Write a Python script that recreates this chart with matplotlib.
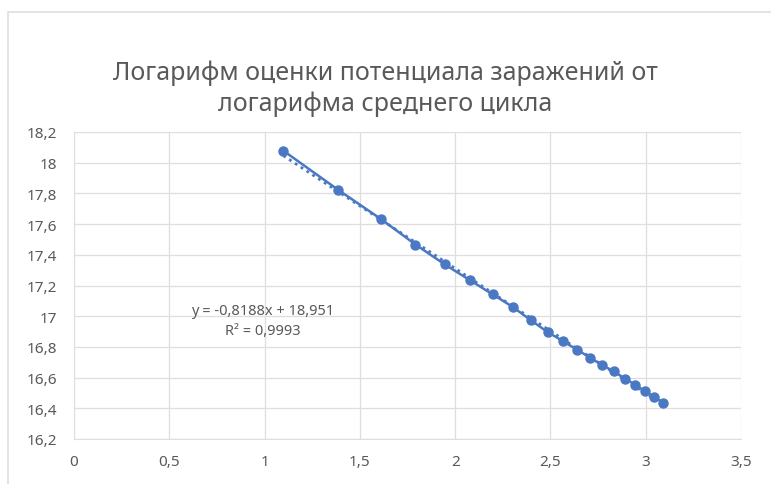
import numpy as np
import matplotlib
matplotlib.use("Agg")
import matplotlib.pyplot as plt
from matplotlib.patches import Rectangle

# Données
ln_cycle = [1.0986, 1.3863, 1.6094, 1.7918, 1.9459, 2.0794, 2.1972, 2.3026,
            2.3979, 2.4849, 2.5649, 2.6391, 2.7081, 2.7726, 2.8332, 2.8904,
            2.9444, 2.9957, 3.0445, 3.0910]
ln_potential = [18.078, 17.823, 17.634, 17.467, 17.337, 17.233, 17.142, 17.060,
                16.973, 16.897, 16.838, 16.782, 16.730, 16.680, 16.641, 16.593,
                16.554, 16.511, 16.474, 16.437]
x_ticks = [0, 0.5, 1, 1.5, 2, 2.5, 3, 3.5]
y_ticks = [16.2, 16.4, 16.6, 16.8, 17, 17.2, 17.4, 17.6, 17.8, 18, 18.2]
title = "Логарифм оценки потенциала заражений от\nлогарифма среднего цикла"
equation = "y = -0,8188x + 18,951\nR² = 0,9993"

blue = "#4a78c2"
grey_txt = "#595959"
grey_grid = "#dedede"

plt.rcParams['font.family'] = ['Noto Sans', 'DejaVu Sans']

fig = plt.figure(figsize=(7.71, 4.85), dpi=100)
ax = fig.add_axes([74 / 771, 1 - 440 / 485, (741 - 74) / 771, (440 - 133) / 485])

# Cadre du graphique
fig.patches.append(Rectangle((8 / 771, -0.05), 1.1, 1 - 13 / 485 + 0.05,
                             transform=fig.transFigure, fill=False,
                             edgecolor=grey_grid, linewidth=1.2))

# Série
ax.plot(ln_cycle, ln_potential, color=blue, linewidth=1.8, marker='o',
        markersize=6.5, zorder=3)

# Ligne de tendance
k, b = np.polyfit(ln_cycle, ln_potential, 1)
xt = np.array([ln_cycle[0], ln_cycle[-1]])
ax.plot(xt, k * xt + b, color=blue, linewidth=2, linestyle=(0, (1, 1.5)),
        zorder=2)

ax.text(0.99, 16.975, equation, ha='center', va='center', fontsize=10.5,
        color=grey_txt, linespacing=1.45)

ax.set_xlim(0, 3.5)
ax.set_ylim(16.2, 18.2)
ax.set_xticks(x_ticks)
ax.set_yticks(y_ticks)
ax.set_xticklabels([f"{v:g}".replace('.', ',') for v in x_ticks])
ax.set_yticklabels([f"{v:g}".replace('.', ',') for v in y_ticks])
ax.tick_params(length=0, labelsize=11, colors=grey_txt)
ax.tick_params(axis='y', pad=12)
ax.tick_params(axis='x', pad=11)
ax.grid(True, color=grey_grid, linewidth=0.9)
ax.set_axisbelow(True)
for s in ax.spines.values():
    s.set_color(grey_grid)
ax.spines['top'].set_visible(False)
ax.spines['right'].set_visible(False)

fig.text(0.5, 1 - 89 / 485, title, ha='center', va='center', fontsize=18,
         color=grey_txt, linespacing=1.3)

fig.savefig("out.png", dpi=100)
